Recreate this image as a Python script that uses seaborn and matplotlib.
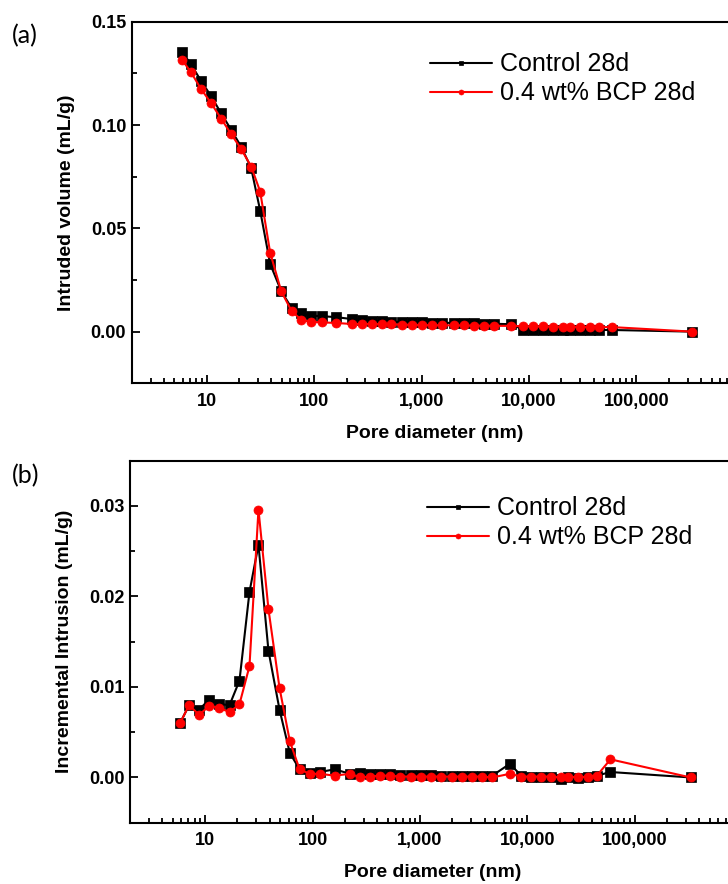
import pandas as pd
import seaborn as sns
import matplotlib.pyplot as plt
from matplotlib.ticker import FixedLocator, LogLocator, NullFormatter, MultipleLocator

# Pore diameters (nm), shared by both curves and both panels
pore_nm = [5.85, 7.1, 8.8, 10.9, 13.6, 16.9, 20.9, 25.9, 31.4, 38.9, 49.3, 61.5, 75.8, 94, 117, 161, 223, 279, 346,
           425, 521, 653, 817, 1013, 1256, 1557, 1996, 2475, 3070, 3802, 4718, 6855,
           8790, 10900, 13500, 16750, 20750, 23970, 29720, 36830, 44360, 59410,
           331000]

# (a) cumulative intruded volume (mL/g)
vol_control = [0.1354, 0.1296, 0.1215, 0.1142, 0.1057, 0.0976, 0.0895, 0.0791, 0.0586, 0.0328, 0.0196, 0.0115,
               0.0089, 0.0077, 0.0075, 0.0070, 0.0061, 0.0057, 0.0053,
               0.0050, 0.0048, 0.0047, 0.0046, 0.0045, 0.0044, 0.0043, 0.0042, 0.0041, 0.0040, 0.0039, 0.0038, 0.0036,
               0.0010, 0.0009, 0.0009, 0.0009, 0.0008, 0.0008, 0.0008, 0.0008, 0.0008, 0.0008,
               0.0]
vol_bcp = [0.1317, 0.1257, 0.1176, 0.1108, 0.1031, 0.0955, 0.0884, 0.0799, 0.0678, 0.0382, 0.0196, 0.0100,
           0.0057, 0.0047, 0.0045, 0.0042, 0.0037, 0.0037, 0.0037,
           0.0036, 0.0035, 0.0034, 0.0033, 0.0032, 0.0031, 0.0031, 0.0030, 0.0030, 0.0029, 0.0029, 0.0028, 0.0028,
           0.0026, 0.0025, 0.0025, 0.0024, 0.0024, 0.0023, 0.0023, 0.0022, 0.0022, 0.0022,
           0.0]

# (b) incremental intrusion (mL/g)
inc_control = [0.0060, 0.0080, 0.0075, 0.0086, 0.0081, 0.0080, 0.0107, 0.0205, 0.0257, 0.0140, 0.0075, 0.0027,
               0.0009, 0.0005, 0.0006, 0.0009, 0.0004, 0.0005, 0.0004,
               0.0004, 0.0004, 0.0003, 0.0003, 0.0003, 0.0003, 0.0002, 0.0002, 0.0002, 0.0002, 0.0002, 0.0002, 0.0015,
               0.0002, 0.0001, 0.0001, 0.0001, -0.0002, 0.0000, -0.0001, 0.0001, 0.0002, 0.0006,
               0.0]
inc_bcp = [0.0060, 0.0080, 0.0069, 0.0079, 0.0077, 0.0072, 0.0081, 0.0123, 0.0296, 0.0186, 0.0099, 0.0040,
           0.0009, 0.0004, 0.0004, 0.0002, 0.0004, 0.0000, 0.0001,
           0.0002, 0.0002, 0.0001, 0.0001, 0.0001, 0.0001, 0.0001, 0.0001, 0.0001, 0.0001, 0.0001, 0.0000, 0.0004,
           0.0001, 0.0001, 0.0001, 0.0001, 0.0000, 0.0001, 0.0000, 0.0001, 0.0002, 0.0020,
           0.0]

series_names = ['Control 28d', '0.4 wt% BCP 28d']
x_ticks = [10, 100, 1000, 10000, 100000]
x_ticklabels = ['10', '100', '1,000', '10,000', '100,000']
ya_ticks = [0.00, 0.05, 0.10, 0.15]
ya_ticklabels = ['0.00', '0.05', '0.10', '0.15']
yb_ticks = [0.00, 0.01, 0.02, 0.03]
yb_ticklabels = ['0.00', '0.01', '0.02', '0.03']

sns.set_style('ticks')
plt.rcParams['font.family'] = ['Liberation Sans', 'DejaVu Sans']
plt.rcParams['text.color'] = 'black'
plt.rcParams['axes.labelcolor'] = 'black'
plt.rcParams['xtick.color'] = 'black'
plt.rcParams['ytick.color'] = 'black'

fig = plt.figure(figsize=(7.28, 8.84), dpi=100)
W, H = 728, 884


def px_axes(left, top, right, bottom):
    return fig.add_axes([left / W, 1 - bottom / H, (right - left) / W, (bottom - top) / H])


ax_a = px_axes(131.7, 21.7, 743.9, 383.3)
ax_b = px_axes(130.0, 460.7, 742.2, 822.7)

panels = [
    (ax_a, vol_control, vol_bcp, 'Intruded volume (mL/g)', (-0.025, 0.15), ya_ticks, ya_ticklabels, 0.025, 0.842, 0.487),
    (ax_b, inc_control, inc_bcp, 'Incremental Intrusion (mL/g)', (-0.005, 0.035), yb_ticks, yb_ticklabels, 0.005, 0.828, 0.485),
]

for ax, ctrl, bcp, ylab, ylim, yt, ytl, yminor, leg_y, leg_x in panels:
    df = pd.DataFrame({'pore': pore_nm, 'ctrl': ctrl, 'bcp': bcp})
    sns.lineplot(data=df, x='pore', y='ctrl', ax=ax, color='black', marker='s', markersize=6.5,
                 markeredgecolor='black', markeredgewidth=0.5, linewidth=1.5, label=series_names[0])
    sns.lineplot(data=df, x='pore', y='bcp', ax=ax, color='#ff0000', marker='o', markersize=6.5,
                 markeredgecolor='#ff0000', markeredgewidth=0.5, linewidth=1.5, label=series_names[1])
    ax.set_xscale('log')
    ax.set_xlim(2, 1e6)
    ax.set_ylim(*ylim)

    ax.xaxis.set_major_locator(FixedLocator(x_ticks))
    ax.xaxis.set_minor_locator(LogLocator(base=10, subs=range(2, 10), numticks=20))
    ax.xaxis.set_minor_formatter(NullFormatter())
    ax.set_xticks(x_ticks)
    ax.set_xticklabels(x_ticklabels, fontsize=13, fontweight='bold')
    ax.set_yticks(yt)
    ax.set_yticklabels(ytl, fontsize=13, fontweight='bold')
    ax.yaxis.set_minor_locator(MultipleLocator(yminor))

    ax.tick_params(which='both', direction='in', top=False, right=False, width=1.3, colors='black')
    ax.tick_params(which='major', length=6)
    ax.tick_params(which='minor', length=3.5)
    ax.tick_params(axis='x', pad=7)
    ax.tick_params(axis='y', pad=4)
    for sp in ax.spines.values():
        sp.set_linewidth(1.5)
        sp.set_color('black')

    ax.set_xlabel('Pore diameter (nm)', fontsize=14, fontweight='bold', color='black')
    ax.set_ylabel(ylab, fontsize=14, fontweight='bold', color='black')
    ax.xaxis.set_label_coords(0.495, -0.115)
    ax.yaxis.set_label_coords(-0.093, 0.5)

    leg = ax.legend(loc='center left', bbox_to_anchor=(leg_x, leg_y), frameon=False, fontsize=18,
                    markerscale=0.55, handlelength=2.5, handletextpad=0.3, labelspacing=0.2,
                    borderpad=0, borderaxespad=0)
    for t in leg.get_texts():
        t.set_color('black')

fig.text(12 / W, 1 - 36 / H, '(a)', fontsize=18, family=['Lato', 'DejaVu Sans'], va='center', ha='left')
fig.text(12 / W, 1 - 476 / H, '(b)', fontsize=18, family=['Lato', 'DejaVu Sans'], va='center', ha='left')

fig.savefig('out.png', dpi=100)
